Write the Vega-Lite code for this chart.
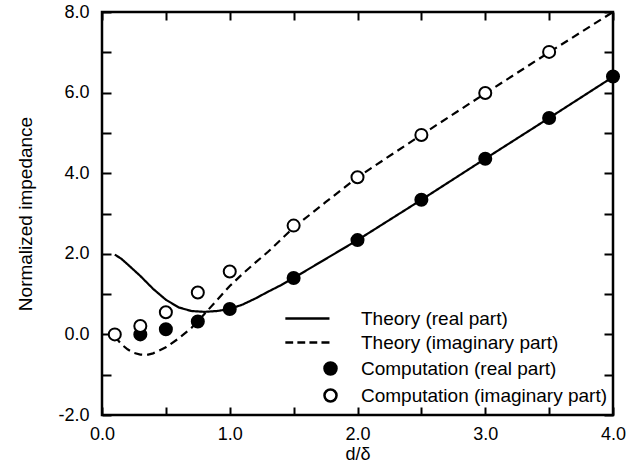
{
  "$schema": "https://vega.github.io/schema/vega-lite/v6.json",
  "width": 511,
  "height": 403,
  "autosize": {"type": "none"},
  "padding": {"left": 102, "top": 12, "right": 22, "bottom": 55},
  "background": "white",
  "config": {
    "font": "Liberation Sans",
    "view": {"stroke": "black", "strokeWidth": 2.5},
    "axis": {"grid": false, "domain": false, "tickColor": "black", "tickWidth": 2, "labelColor": "black", "titleColor": "black", "labelFont": "Liberation Sans", "titleFont": "Liberation Sans", "titleFontWeight": "normal"},
    "legend": {"symbolStrokeWidth": 2.5, "symbolStrokeColor": "black"}
  },
  "datasets": {
    "theory": [
      {"d": 0.10, "z": 1.98, "series": "Theory (real part)"},
      {"d": 0.15, "z": 1.88, "series": "Theory (real part)"},
      {"d": 0.20, "z": 1.74, "series": "Theory (real part)"},
      {"d": 0.30, "z": 1.45, "series": "Theory (real part)"},
      {"d": 0.40, "z": 1.13, "series": "Theory (real part)"},
      {"d": 0.50, "z": 0.86, "series": "Theory (real part)"},
      {"d": 0.60, "z": 0.67, "series": "Theory (real part)"},
      {"d": 0.70, "z": 0.58, "series": "Theory (real part)"},
      {"d": 0.80, "z": 0.56, "series": "Theory (real part)"},
      {"d": 0.90, "z": 0.58, "series": "Theory (real part)"},
      {"d": 1.00, "z": 0.63, "series": "Theory (real part)"},
      {"d": 1.10, "z": 0.74, "series": "Theory (real part)"},
      {"d": 1.20, "z": 0.89, "series": "Theory (real part)"},
      {"d": 1.30, "z": 1.06, "series": "Theory (real part)"},
      {"d": 1.40, "z": 1.22, "series": "Theory (real part)"},
      {"d": 1.50, "z": 1.40, "series": "Theory (real part)"},
      {"d": 1.75, "z": 1.87, "series": "Theory (real part)"},
      {"d": 2.00, "z": 2.34, "series": "Theory (real part)"},
      {"d": 2.50, "z": 3.34, "series": "Theory (real part)"},
      {"d": 3.00, "z": 4.36, "series": "Theory (real part)"},
      {"d": 3.50, "z": 5.37, "series": "Theory (real part)"},
      {"d": 4.00, "z": 6.39, "series": "Theory (real part)"},
      {"d": 0.10, "z": -0.05, "series": "Theory (imaginary part)"},
      {"d": 0.15, "z": -0.24, "series": "Theory (imaginary part)"},
      {"d": 0.20, "z": -0.37, "series": "Theory (imaginary part)"},
      {"d": 0.25, "z": -0.46, "series": "Theory (imaginary part)"},
      {"d": 0.30, "z": -0.50, "series": "Theory (imaginary part)"},
      {"d": 0.35, "z": -0.51, "series": "Theory (imaginary part)"},
      {"d": 0.40, "z": -0.47, "series": "Theory (imaginary part)"},
      {"d": 0.50, "z": -0.32, "series": "Theory (imaginary part)"},
      {"d": 0.60, "z": -0.10, "series": "Theory (imaginary part)"},
      {"d": 0.70, "z": 0.16, "series": "Theory (imaginary part)"},
      {"d": 0.80, "z": 0.50, "series": "Theory (imaginary part)"},
      {"d": 0.90, "z": 0.85, "series": "Theory (imaginary part)"},
      {"d": 1.00, "z": 1.20, "series": "Theory (imaginary part)"},
      {"d": 1.10, "z": 1.50, "series": "Theory (imaginary part)"},
      {"d": 1.20, "z": 1.78, "series": "Theory (imaginary part)"},
      {"d": 1.30, "z": 2.05, "series": "Theory (imaginary part)"},
      {"d": 1.40, "z": 2.35, "series": "Theory (imaginary part)"},
      {"d": 1.50, "z": 2.65, "series": "Theory (imaginary part)"},
      {"d": 1.75, "z": 3.28, "series": "Theory (imaginary part)"},
      {"d": 2.00, "z": 3.90, "series": "Theory (imaginary part)"},
      {"d": 2.50, "z": 4.95, "series": "Theory (imaginary part)"},
      {"d": 3.00, "z": 5.98, "series": "Theory (imaginary part)"},
      {"d": 3.50, "z": 7.00, "series": "Theory (imaginary part)"},
      {"d": 4.00, "z": 8.00, "series": "Theory (imaginary part)"}
    ],
    "computation": [
      {"d": 0.3, "z": 0.00, "series": "Computation (real part)"},
      {"d": 0.5, "z": 0.13, "series": "Computation (real part)"},
      {"d": 0.75, "z": 0.32, "series": "Computation (real part)"},
      {"d": 1.0, "z": 0.63, "series": "Computation (real part)"},
      {"d": 1.5, "z": 1.40, "series": "Computation (real part)"},
      {"d": 2.0, "z": 2.34, "series": "Computation (real part)"},
      {"d": 2.5, "z": 3.34, "series": "Computation (real part)"},
      {"d": 3.0, "z": 4.36, "series": "Computation (real part)"},
      {"d": 3.5, "z": 5.37, "series": "Computation (real part)"},
      {"d": 4.0, "z": 6.40, "series": "Computation (real part)"},
      {"d": 0.1, "z": 0.00, "series": "Computation (imaginary part)"},
      {"d": 0.3, "z": 0.21, "series": "Computation (imaginary part)"},
      {"d": 0.5, "z": 0.55, "series": "Computation (imaginary part)"},
      {"d": 0.75, "z": 1.04, "series": "Computation (imaginary part)"},
      {"d": 1.0, "z": 1.56, "series": "Computation (imaginary part)"},
      {"d": 1.5, "z": 2.70, "series": "Computation (imaginary part)"},
      {"d": 2.0, "z": 3.90, "series": "Computation (imaginary part)"},
      {"d": 2.5, "z": 4.95, "series": "Computation (imaginary part)"},
      {"d": 3.0, "z": 5.99, "series": "Computation (imaginary part)"},
      {"d": 3.5, "z": 7.01, "series": "Computation (imaginary part)"}
    ]
  },
  "resolve": {"axis": {"x": "independent", "y": "independent"}},
  "layer": [
    {
      "data": {"name": "theory"},
      "mark": {"type": "line", "color": "black", "strokeWidth": 2.2, "clip": true},
      "encoding": {
        "x": {"field": "d", "type": "quantitative", "scale": {"domain": [0, 4], "nice": false, "zero": false},
          "axis": {"orient": "bottom", "title": "d/δ", "values": [0, 0.5, 1, 1.5, 2, 2.5, 3, 3.5, 4], "labelExpr": "datum.value % 1 === 0 ? format(datum.value, '.1f') : ''", "tickSize": -8, "labelPadding": 18, "labelFontSize": 18, "titleFontSize": 18, "titlePadding": 2, "labelFlush": false}},
        "y": {"field": "z", "type": "quantitative", "scale": {"domain": [-2, 8], "nice": false, "zero": false},
          "axis": {"orient": "left", "title": "Normalized impedance", "values": [-2, -1, 0, 1, 2, 3, 4, 5, 6, 7, 8], "labelExpr": "datum.value % 2 === 0 ? replace(format(datum.value, '.1f'), '−', '-') : ''", "tickSize": -9, "labelPadding": 22, "labelFontSize": 18, "titleFontSize": 19, "titlePadding": 22, "labelFlush": false}},
        "strokeDash": {"field": "series", "type": "nominal", "scale": {"domain": ["Theory (real part)", "Theory (imaginary part)"], "range": [[1, 0], [8, 5]]}, "legend": null}
      }
    },
    {
      "data": {"name": "computation"},
      "mark": {"type": "point", "filled": true, "strokeWidth": 2, "size": 145, "opacity": 1},
      "encoding": {
        "x": {"field": "d", "type": "quantitative",
          "axis": {"orient": "top", "title": null, "values": [0, 0.5, 1, 1.5, 2, 2.5, 3, 3.5, 4], "labels": false, "tickSize": -8}},
        "y": {"field": "z", "type": "quantitative",
          "axis": {"orient": "right", "title": null, "values": [-2, -1, 0, 1, 2, 3, 4, 5, 6, 7, 8], "labels": false, "tickSize": -9}},
        "shape": {"field": "series", "type": "nominal",
          "scale": {"domain": ["Theory (real part)", "Theory (imaginary part)", "Computation (real part)", "Computation (imaginary part)"],
            "range": ["M-7.5,0H-0.17", "M-7.5,0H-6.2M-5.5,0H-4.2M-3.5,0H-2.2M-1.5,0H-0.17", "circle", "circle"]},
          "legend": {"title": null, "orient": "none", "legendX": 219, "legendY": 297, "labelFontSize": 19, "labelFont": "Liberation Sans", "labelColor": "black", "labelLimit": 400, "symbolSize": 145, "symbolStrokeWidth": 2.5, "labelOffset": 21, "rowPadding": 4, "padding": 0}},
        "fill": {"field": "series", "type": "nominal",
          "scale": {"domain": ["Theory (real part)", "Theory (imaginary part)", "Computation (real part)", "Computation (imaginary part)"],
            "range": ["black", "black", "black", "white"]},
          "legend": {"title": null, "orient": "none", "legendX": 219, "legendY": 297, "labelFontSize": 19, "labelFont": "Liberation Sans", "labelColor": "black", "labelLimit": 400, "symbolSize": 145, "symbolStrokeWidth": 2.5, "labelOffset": 21, "rowPadding": 4, "padding": 0}},
        "stroke": {"field": "series", "type": "nominal",
          "scale": {"domain": ["Theory (real part)", "Theory (imaginary part)", "Computation (real part)", "Computation (imaginary part)"],
            "range": ["black", "black", "black", "black"]},
          "legend": {"title": null, "orient": "none", "legendX": 219, "legendY": 297, "labelFontSize": 19, "labelFont": "Liberation Sans", "labelColor": "black", "labelLimit": 400, "symbolSize": 145, "symbolStrokeWidth": 2.5, "labelOffset": 21, "rowPadding": 4, "padding": 0}}
      }
    }
  ]
}
